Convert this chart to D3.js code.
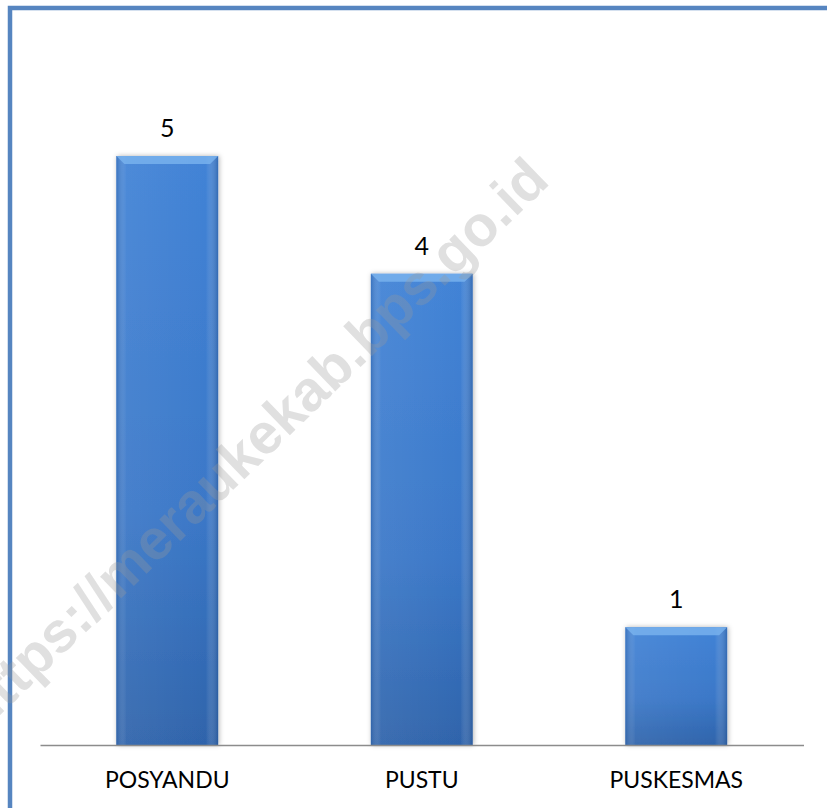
<!DOCTYPE html>
<html>
<head>
<meta charset="utf-8">
<script src="https://cdn.jsdelivr.net/npm/d3@7"></script>
<style>
  body { margin: 0; background: #fff; }
  svg { display: block; }
</style>
</head>
<body>
<svg id="chart"></svg>
<script>
let categories = ["POSYANDU", "PUSTU", "PUSKESMAS"];
let values = [5, 4, 1];
let watermark = "https://meraukekab.bps.go.id";

const width = 827;
const height = 808;
const axisY = 745;

const svg = d3.select("#chart")
  .attr("width", width)
  .attr("height", height);

//defs
const defs = svg.append("defs");
const grad = defs.append("linearGradient")
  .attr("id", "barFill")
  .attr("x1", 0).attr("y1", 0).attr("x2", 0).attr("y2", 1);
grad.append("stop").attr("offset", "0%").attr("stop-color", "#4283d6");
grad.append("stop").attr("offset", "60%").attr("stop-color", "#3b78c8");
grad.append("stop").attr("offset", "100%").attr("stop-color", "#2f64ab");

const sideGrad = defs.append("linearGradient")
  .attr("id", "sideFill")
  .attr("x1", 0).attr("y1", 0).attr("x2", 1).attr("y2", 0);
sideGrad.append("stop").attr("offset", "0%").attr("stop-color", "#2c5fa3").attr("stop-opacity", 0.45);
sideGrad.append("stop").attr("offset", "10%").attr("stop-color", "#ffffff").attr("stop-opacity", 0.06);
sideGrad.append("stop").attr("offset", "88%").attr("stop-color", "#ffffff").attr("stop-opacity", 0);
sideGrad.append("stop").attr("offset", "100%").attr("stop-color", "#1f4c8a").attr("stop-opacity", 0.45);

const shadow = defs.append("filter")
  .attr("id", "shadow")
  .attr("x", "-20%").attr("y", "-10%").attr("width", "140%").attr("height", "120%");
shadow.append("feDropShadow")
  .attr("dx", 1).attr("dy", 0).attr("stdDeviation", 2.5)
  .attr("flood-color", "#000").attr("flood-opacity", 0.3);

//frame
svg.append("path")
  .attr("d", `M10,${height} L10,8 L${width},8`)
  .attr("fill", "none")
  .attr("stroke", "#5685c0")
  .attr("stroke-width", 4.5);

//scales
let xScale = d3.scaleBand()
  .domain(categories)
  .range([40, 803.5])
  .paddingInner(0.6)
  .paddingOuter(0.3);

let yScale = d3.scaleLinear()
  .domain([0, 6])
  .range([axisY, 38.2]);

//bars
const bars = svg.selectAll(".bar")
  .data(categories.map((c, i) => ({ cat: c, value: values[i] })))
  .enter()
  .append("g")
  .attr("class", "bar");

bars.append("rect")
  .attr("x", (d) => xScale(d.cat))
  .attr("y", (d) => yScale(d.value))
  .attr("width", xScale.bandwidth())
  .attr("height", (d) => yScale(0) - yScale(d.value))
  .attr("fill", "url(#barFill)")
  .attr("filter", "url(#shadow)");

bars.append("rect")
  .attr("x", (d) => xScale(d.cat))
  .attr("y", (d) => yScale(d.value))
  .attr("width", xScale.bandwidth())
  .attr("height", (d) => yScale(0) - yScale(d.value))
  .attr("fill", "url(#sideFill)");

//top bevel
const bevel = 8;
bars.append("path")
  .attr("d", (d) => {
    let x0 = xScale(d.cat), x1 = x0 + xScale.bandwidth(), y0 = yScale(d.value);
    return `M${x0},${y0} L${x1},${y0} L${x1 - bevel},${y0 + bevel} L${x0 + bevel},${y0 + bevel} Z`;
  })
  .attr("fill", "#7ab4ef")
  .attr("opacity", 0.8);

//value labels
bars.append("text")
  .attr("x", (d) => xScale(d.cat) + xScale.bandwidth() / 2)
  .attr("y", (d) => yScale(d.value) - 19)
  .attr("text-anchor", "middle")
  .style("font-family", "Lato, 'Open Sans', sans-serif")
  .style("font-size", "25px")
  .style("fill", "#000")
  .text((d) => d.value);

//axis
let xAxis = d3.axisBottom(xScale)
  .tickSize(0)
  .tickPadding(27);

const axisG = svg.append("g")
  .attr("transform", `translate(0, ${axisY})`)
  .call(xAxis);
axisG.select(".domain")
  .attr("stroke", "#8c8c8c")
  .attr("stroke-width", 1.6);
axisG.selectAll("text")
  .style("font-family", "Lato, 'Open Sans', sans-serif")
  .style("font-size", "23px")
  .style("fill", "#000");

//watermark
svg.append("text")
  .attr("transform", "translate(256, 447) rotate(-44)")
  .attr("text-anchor", "middle")
  .attr("dominant-baseline", "middle")
  .style("font-family", "'Liberation Sans', Arial, sans-serif")
  .style("font-weight", "bold")
  .style("font-size", "57px")
  .style("fill", "#9a9a9a")
  .style("opacity", 0.3)
  .text(watermark);
</script>
</body>
</html>
